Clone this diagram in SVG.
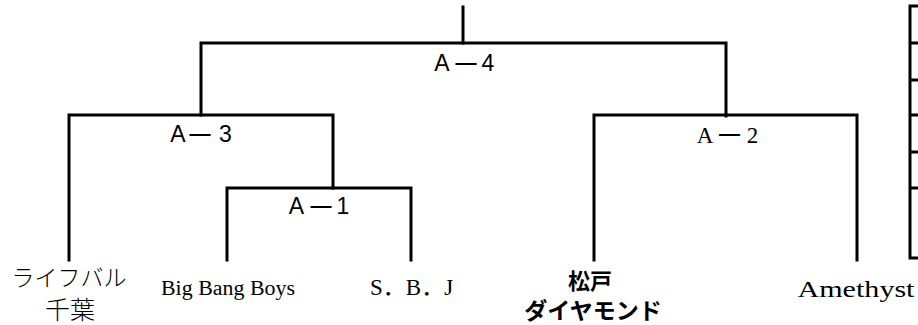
<svg xmlns="http://www.w3.org/2000/svg" width="918" height="325" viewBox="0 0 918 325">
<style>
.ln{stroke:#000;stroke-width:3;fill:none;stroke-linecap:square}
.gs{font-family:"Liberation Sans","Noto Sans CJK JP",sans-serif;font-size:23px;fill:#000;text-anchor:middle}
.ms{font-family:"Liberation Serif","Noto Sans CJK JP",serif;fill:#000;text-anchor:middle}
.dash{font-size:29px}
.jm{font-family:"Noto Sans CJK JP",sans-serif;font-weight:300;fill:#000;text-anchor:middle}
.jb{font-family:"Noto Sans CJK JP",sans-serif;font-weight:bold;fill:#000;text-anchor:middle}
</style>
<rect width="918" height="325" fill="#fff"/>
<g id="connectors">
<path class="ln" d="M463,7 V43"/>
<path class="ln" d="M201,115 V43 H726 V116"/>
<path class="ln" d="M69,260 V115 H333 V188"/>
<path class="ln" d="M227,260 V188 H411 V260"/>
<path class="ln" d="M594,260 V115 H857 V260"/>
</g>
<g id="side-table">
<path class="ln" style="stroke-linecap:butt" d="M920,6 H910 V258 H920"/>
<path class="ln" style="stroke-linecap:butt" d="M910,43 H920 M910,80 H920 M910,115 H920 M910,152 H920 M910,188 H920"/>
</g>
<g id="match-A4"><text class="gs" y="71"><tspan x="442">A</tspan><tspan class="dash" x="466" dy="3.5">－</tspan><tspan x="488" dy="-3.5">4</tspan></text></g>
<g id="match-A3"><text class="gs" y="142"><tspan x="178">A</tspan><tspan class="dash" x="200" dy="3.5">－</tspan><tspan x="225.5" dy="-3.5">3</tspan></text></g>
<g id="match-A1"><text class="gs" y="214"><tspan x="296.5">A</tspan><tspan class="dash" x="321" dy="3.5">－</tspan><tspan x="343" dy="-3.5">1</tspan></text></g>
<g id="match-A2"><text class="ms" y="143" font-size="23"><tspan x="705">A</tspan><tspan class="dash" x="729.5" dy="3">－</tspan><tspan x="752.5" dy="-3">2</tspan></text></g>
<g id="team-raifubaru">
<text class="jm" x="69" y="286" font-size="23">ライフバル</text>
<text class="jm" x="70" y="319" font-size="25">千葉</text>
</g>
<g id="team-bigbangboys"><text class="ms" x="228" y="295" font-size="20" textLength="134" lengthAdjust="spacingAndGlyphs">Big Bang Boys</text></g>
<g id="team-sbj"><text class="ms" x="370" y="295" font-size="23" style="text-anchor:start">S．B．J</text></g>
<g id="team-matsudo">
<text class="jb" x="590" y="289" font-size="22">松戸</text>
<text class="jb" x="593" y="319" font-size="23">ダイヤモンド</text>
</g>
<g id="team-amethyst"><text class="ms" x="856" y="297" font-size="23" textLength="117" lengthAdjust="spacingAndGlyphs">Amethyst</text></g>
</svg>
